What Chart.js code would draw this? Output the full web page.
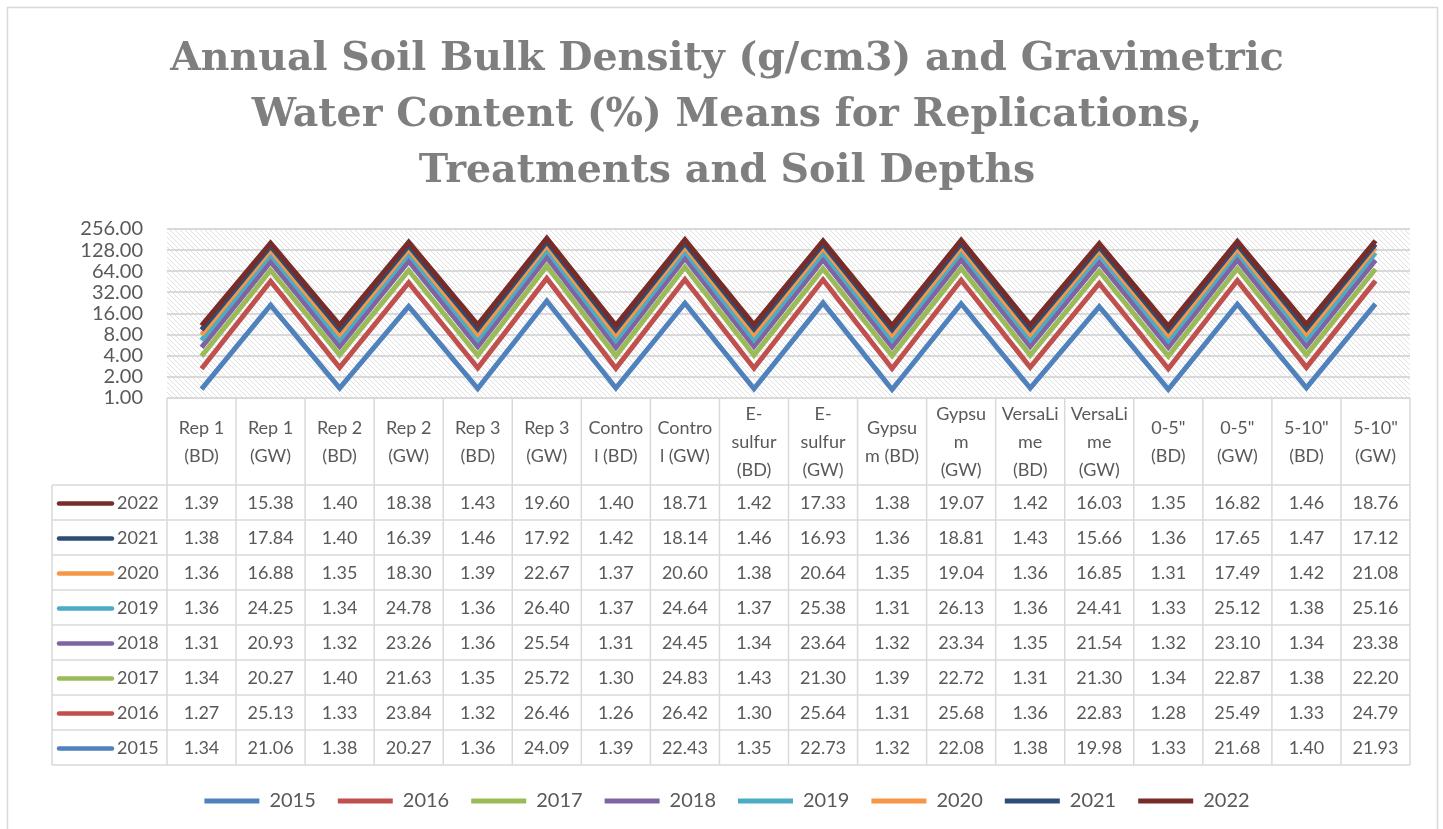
<!DOCTYPE html>
<html>
<head>
<meta charset="utf-8">
<title>Annual Soil Bulk Density and Gravimetric Water Content</title>
<script src="https://cdn.jsdelivr.net/npm/chart.js@4.4.1/dist/chart.umd.min.js"></script>
<style>
  html, body { margin: 0; padding: 0; background: #fff; }
  #wrap { width: 1443px; height: 829px; }
</style>
</head>
<body>
<div id="wrap"><canvas id="lineChart"></canvas></div>
<script>
// Categories (multi-line, as wrapped in the data table header)
var categories = [
  ['Rep 1', '(BD)'], ['Rep 1', '(GW)'], ['Rep 2', '(BD)'], ['Rep 2', '(GW)'],
  ['Rep 3', '(BD)'], ['Rep 3', '(GW)'], ['Contro', 'l (BD)'], ['Contro', 'l (GW)'],
  ['E-', 'sulfur', '(BD)'], ['E-', 'sulfur', '(GW)'], ['Gypsu', 'm (BD)'], ['Gypsu', 'm', '(GW)'],
  ['VersaLi', 'me', '(BD)'], ['VersaLi', 'me', '(GW)'], ['0-5"', '(BD)'], ['0-5"', '(GW)'],
  ['5-10"', '(BD)'], ['5-10"', '(GW)']
];

var years = ['2015', '2016', '2017', '2018', '2019', '2020', '2021', '2022'];

var values2015 = [1.34, 21.06, 1.38, 20.27, 1.36, 24.09, 1.39, 22.43, 1.35, 22.73, 1.32, 22.08, 1.38, 19.98, 1.33, 21.68, 1.40, 21.93];
var values2016 = [1.27, 25.13, 1.33, 23.84, 1.32, 26.46, 1.26, 26.42, 1.30, 25.64, 1.31, 25.68, 1.36, 22.83, 1.28, 25.49, 1.33, 24.79];
var values2017 = [1.34, 20.27, 1.40, 21.63, 1.35, 25.72, 1.30, 24.83, 1.43, 21.30, 1.39, 22.72, 1.31, 21.30, 1.34, 22.87, 1.38, 22.20];
var values2018 = [1.31, 20.93, 1.32, 23.26, 1.36, 25.54, 1.31, 24.45, 1.34, 23.64, 1.32, 23.34, 1.35, 21.54, 1.32, 23.10, 1.34, 23.38];
var values2019 = [1.36, 24.25, 1.34, 24.78, 1.36, 26.40, 1.37, 24.64, 1.37, 25.38, 1.31, 26.13, 1.36, 24.41, 1.33, 25.12, 1.38, 25.16];
var values2020 = [1.36, 16.88, 1.35, 18.30, 1.39, 22.67, 1.37, 20.60, 1.38, 20.64, 1.35, 19.04, 1.36, 16.85, 1.31, 17.49, 1.42, 21.08];
var values2021 = [1.38, 17.84, 1.40, 16.39, 1.46, 17.92, 1.42, 18.14, 1.46, 16.93, 1.36, 18.81, 1.43, 15.66, 1.36, 17.65, 1.47, 17.12];
var values2022 = [1.39, 15.38, 1.40, 18.38, 1.43, 19.60, 1.40, 18.71, 1.42, 17.33, 1.38, 19.07, 1.42, 16.03, 1.35, 16.82, 1.46, 18.76];

var seriesValues = [values2015, values2016, values2017, values2018, values2019, values2020, values2021, values2022];
var seriesColors = ['#4F81BD', '#C0504D', '#9BBB59', '#8064A2', '#4BACC6', '#F79646', '#2C4D75', '#772C2A'];

// Log (base 2) axis ticks
var yTicks = [1, 2, 4, 8, 16, 32, 64, 128, 256];

var textColor = '#595959';
var lineColor = '#d9d9d9';
var bodyFont = 'Lato';

// Hatched background pattern for the plot area
function makeHatch() {
  var c = document.createElement('canvas');
  c.width = 5; c.height = 5;
  var g = c.getContext('2d');
  g.fillStyle = '#ffffff';
  g.fillRect(0, 0, 5, 5);
  g.strokeStyle = '#e0e0e0';
  g.lineWidth = 1;
  g.beginPath();
  g.moveTo(-1, -1); g.lineTo(6, 6);
  g.moveTo(-1, 4); g.lineTo(1, 6);
  g.moveTo(4, -1); g.lineTo(6, 1);
  g.stroke();
  return g.createPattern(c, 'repeat');
}

// Outer frame + plot background
var backdrop = {
  id: 'backdrop',
  beforeDraw: function(chart) {
    var ctx = chart.ctx, a = chart.chartArea;
    ctx.save();
    ctx.fillStyle = '#ffffff';
    ctx.fillRect(0, 0, chart.width, chart.height);
    ctx.strokeStyle = lineColor;
    ctx.lineWidth = 1.5;
    ctx.strokeRect(7.5, 7.5, 1430, 900);
    ctx.fillStyle = makeHatch();
    ctx.fillRect(a.left, a.top, a.right - a.left, a.bottom - a.top);
    ctx.restore();
  }
};

// Draw 2022 on top (stack order stays 2015 at the bottom)
var drawOrder = {
  id: 'drawOrder',
  beforeDatasetsDraw: function(chart) {
    chart.getSortedVisibleDatasetMetas().forEach(function(meta) {
      meta.controller.draw();
    });
    return false;
  }
};

// Data table under the plot
var dataTable = {
  id: 'dataTable',
  afterDraw: function(chart) {
    var ctx = chart.ctx, a = chart.chartArea, xs = chart.scales.x;
    var colW = (a.right - a.left) / categories.length;
    var top = a.bottom, headBottom = top + 87, rowH = 35;
    var bottom = headBottom + rowH * years.length;
    var keyLeft = 52;

    ctx.save();
    ctx.strokeStyle = lineColor;
    ctx.lineWidth = 1.5;
    ctx.beginPath();
    ctx.moveTo(a.left, top); ctx.lineTo(a.right, top);
    for (var r = 0; r <= years.length; r++) {
      var yy = headBottom + r * rowH;
      ctx.moveTo(keyLeft, yy); ctx.lineTo(a.right, yy);
    }
    for (var c = 0; c <= categories.length; c++) {
      var xx = a.left + c * colW;
      ctx.moveTo(xx, top); ctx.lineTo(xx, bottom);
    }
    ctx.moveTo(keyLeft, headBottom); ctx.lineTo(keyLeft, bottom);
    ctx.stroke();

    ctx.fillStyle = textColor;
    ctx.font = '18px ' + bodyFont;
    ctx.textAlign = 'center';
    ctx.textBaseline = 'middle';

    // header
    var headMid = (top + headBottom) / 2 + 1;
    categories.forEach(function(lines, i) {
      var cx = xs.getPixelForValue(i);
      var lh = 28;
      var y0 = headMid - (lines.length - 1) * lh / 2;
      lines.forEach(function(t, k) { ctx.fillText(t, cx, y0 + k * lh); });
    });

    // rows, newest year first
    for (var s = years.length - 1, row = 0; s >= 0; s--, row++) {
      var cy = headBottom + row * rowH + rowH / 2 + 1;
      ctx.strokeStyle = seriesColors[s];
      ctx.lineWidth = 4.5;
      ctx.lineCap = 'round';
      ctx.beginPath();
      ctx.moveTo(59, cy); ctx.lineTo(112, cy);
      ctx.stroke();
      ctx.textAlign = 'left';
      ctx.fillText(years[s], 117, cy);
      ctx.textAlign = 'center';
      seriesValues[s].forEach(function(v, i) {
        ctx.fillText(v.toFixed(2), xs.getPixelForValue(i), cy);
      });
    }
    ctx.restore();
  }
};

var datasets = years.map(function(y, i) {
  return {
    label: y,
    data: seriesValues[i],
    borderColor: seriesColors[i],
    backgroundColor: seriesColors[i],
    borderWidth: 5,
    pointRadius: 0,
    tension: 0,
    fill: false,
    borderJoinStyle: 'miter'
  };
});

var ctx = document.getElementById('lineChart').getContext('2d');
var chartInstance = new Chart(ctx, {
  type: 'line',
  data: {
    labels: categories,
    datasets: datasets
  },
  options: {
    responsive: true,
    maintainAspectRatio: false,
    animation: false,
    events: [],
    layout: {
      padding: { left: 44, right: 33, top: 0, bottom: 8 }
    },
    scales: {
      x: {
        offset: true,
        grid: { display: false },
        border: { display: false },
        ticks: { display: false },
        afterFit: function(scale) { scale.height = 371; }
      },
      y: {
        type: 'logarithmic',
        stacked: true,
        min: 1,
        max: 256,
        afterBuildTicks: function(scale) {
          scale.ticks = yTicks.map(function(v) { return { value: v }; });
        },
        afterFit: function(scale) { scale.width = 123; },
        grid: { color: lineColor, lineWidth: 2, drawTicks: false },
        border: { display: false },
        ticks: {
          autoSkip: false,
          padding: 24,
          color: textColor,
          font: { family: bodyFont, size: 20 },
          callback: function(v) { return Number(v).toFixed(2); }
        }
      }
    },
    plugins: {
      title: {
        display: true,
        text: [
          'Annual Soil Bulk Density (g/cm3) and Gravimetric',
          'Water Content (%) Means for Replications,',
          'Treatments and Soil Depths'
        ],
        color: '#7f7f7f',
        font: { family: 'DejaVu Serif', size: 39.5, weight: 'bold', lineHeight: 1.418 },
        padding: { top: 32, bottom: 29 }
      },
      legend: {
        position: 'bottom',
        labels: {
          boxWidth: 55,
          boxHeight: 5,
          padding: 22,
          color: textColor,
          font: { family: bodyFont, size: 20 },
          generateLabels: function(chart) {
            return chart.data.datasets.map(function(ds, i) {
              return {
                text: ds.label,
                fillStyle: ds.borderColor,
                strokeStyle: ds.borderColor,
                lineWidth: 0,
                hidden: false,
                datasetIndex: i,
                fontColor: textColor
              };
            });
          }
        }
      },
      tooltip: { enabled: false }
    }
  },
  plugins: [backdrop, drawOrder, dataTable]
});
</script>
</body>
</html>
